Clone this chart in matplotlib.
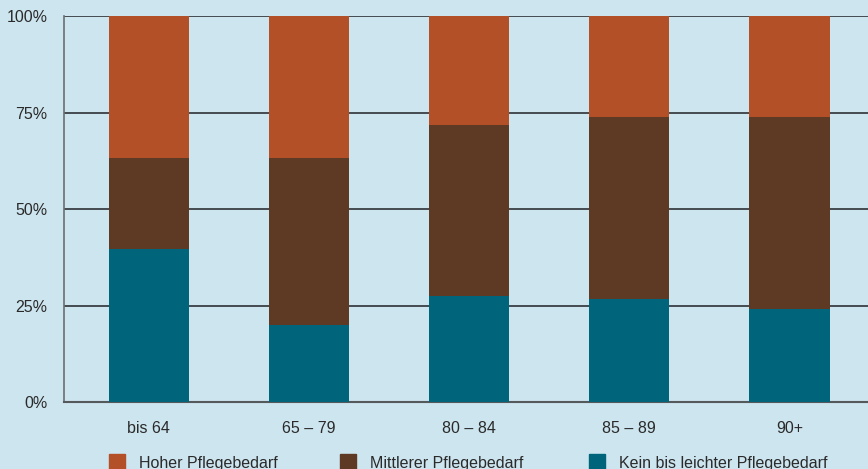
import matplotlib.pyplot as plt
from matplotlib.patches import Rectangle

# Anteile je Altersgruppe (in %)
age_groups = ['bis 64', '65 – 79', '80 – 84', '85 – 89', '90+']
kein_leicht = [39.6, 19.9, 27.5, 26.7, 24.1]
mittlerer = [23.6, 43.3, 44.3, 47.1, 49.7]
hoher = [36.8, 36.8, 28.2, 26.2, 26.2]
series_names = ['Hoher Pflegebedarf', 'Mittlerer Pflegebedarf', 'Kein bis leichter Pflegebedarf']

bg = '#cde5ef'
c_hoher = '#b35027'
c_mittel = '#5e3924'
c_kein = '#00647a'

plt.rcParams['font.family'] = ['Liberation Sans Narrow', 'Liberation Sans', 'DejaVu Sans']

fig = plt.figure(figsize=(8.68, 4.69), dpi=100, facecolor=bg)
ax = fig.add_axes([64 / 868, 1 - 402 / 469, (868 - 64) / 868, (402 - 16) / 469])
ax.set_facecolor(bg)

x = list(range(len(age_groups)))
bottom2 = kein_leicht
bottom3 = [a + b for a, b in zip(kein_leicht, mittlerer)]
ax.bar(x, kein_leicht, width=0.5, color=c_kein, zorder=3)
ax.bar(x, mittlerer, width=0.5, bottom=bottom2, color=c_mittel, zorder=3)
ax.bar(x, hoher, width=0.5, bottom=bottom3, color=c_hoher, zorder=3)

ax.set_xlim(-0.53, 4.49)
ax.set_ylim(0, 100)
ax.set_yticks([0, 25, 50, 75, 100])
ax.set_yticklabels(['0%', '25%', '50%', '75%', '100%'])
ax.set_xticks(x)
ax.set_xticklabels(age_groups)
ax.tick_params(axis='both', length=0, labelsize=11.5, colors='#2a2a2a')
ax.tick_params(axis='x', pad=14)
ax.tick_params(axis='y', pad=12)

for v in [25, 50, 75, 100]:
    ax.axhline(v, color='#3a3f44', lw=1.3, zorder=1)

for s in ['top', 'right']:
    ax.spines[s].set_visible(False)
ax.spines['left'].set_color('#6a6f73')
ax.spines['left'].set_linewidth(1.2)
ax.spines['bottom'].set_color('#55595c')
ax.spines['bottom'].set_linewidth(1.5)

# Legende unten
legend_colors = [c_hoher, c_mittel, c_kein]
legend_x = [109, 340, 589]
for name, col, lx in zip(series_names, legend_colors, legend_x):
    fig.patches.append(Rectangle((lx / 868, 0), 16 / 868, 15 / 469,
                                 transform=fig.transFigure, color=col))
    fig.text((lx + 30) / 868, 6 / 469, name, fontsize=11.5, color='#2a2a2a',
             va='center', ha='left')

fig.savefig('out.png', dpi=100, facecolor=bg)
